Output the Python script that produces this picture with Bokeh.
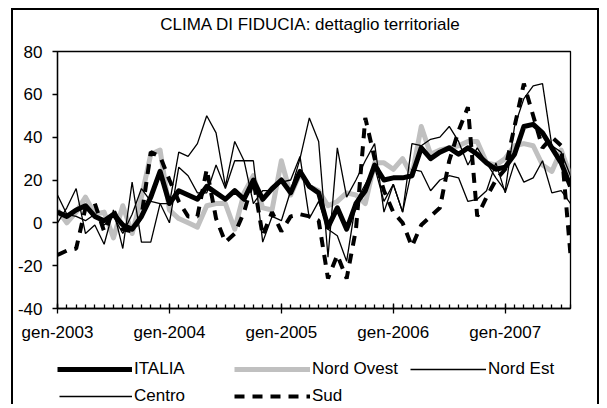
from bokeh.plotting import figure
from bokeh.layouts import column
from bokeh.models import Range1d, FixedTicker, Legend, LegendItem, Label
from bokeh.embed import file_html
from bokeh.resources import INLINE

# ---- data (monthly, gen-2003 .. ago-2007) ----
months = ["gen-2003", "feb-2003", "mar-2003", "apr-2003", "mag-2003", "giu-2003",
          "lug-2003", "ago-2003", "set-2003", "ott-2003", "nov-2003", "dic-2003",
          "gen-2004", "feb-2004", "mar-2004", "apr-2004", "mag-2004", "giu-2004",
          "lug-2004", "ago-2004", "set-2004", "ott-2004", "nov-2004", "dic-2004",
          "gen-2005", "feb-2005", "mar-2005", "apr-2005", "mag-2005", "giu-2005",
          "lug-2005", "ago-2005", "set-2005", "ott-2005", "nov-2005", "dic-2005",
          "gen-2006", "feb-2006", "mar-2006", "apr-2006", "mag-2006", "giu-2006",
          "lug-2006", "ago-2006", "set-2006", "ott-2006", "nov-2006", "dic-2006",
          "gen-2007", "feb-2007", "mar-2007", "apr-2007", "mag-2007", "giu-2007",
          "lug-2007", "ago-2007"]

italia = [5, 3, 6, 8, 3, 1, 4, -1, -3, 3, 12, 24,
          9, 15, 13, 11, 17, 14, 11, 15, 11, 20, 11, 16,
          20, 14, 24, 17, 14, -2, 7, -3, 9, 15, 27, 20,
          21, 21, 22, 35, 30, 33, 35, 32, 35, 32, 28, 25,
          26, 32, 45, 46, 42, 35, 28, 17]

nord_ovest = [6, 0, 5, 12, 4, 5, -7, 8, -5, 12, 32, 34,
              6, 2, 0, -2, 8, 9, 9, -3, 14, 22, 7, 6,
              29, 13, 23, 17, 15, 8, 10, 14, 13, 9, 28, 28,
              25, 30, 22, 45, 32, 34, 35, 36, 38, 38, 28, 27,
              30, 36, 37, 36, 27, 24, 34, 22]

nord_est = [13, 4, 3, 1, 4, -1, 3, -5, 4, 16, 10, 9,
            0, 26, 22, 14, 14, 27, 16, 29, 29, 9, 15, 15,
            19, 20, 31, 2, 10, -3, -6, -18, 10, 18, 26, 10,
            18, 5, 25, 24, 15, 20, 22, 21, 10, 11, 15, 28,
            14, 28, 19, 21, 29, 14, 15, 9]

centro = [0, 7, 16, -5, -1, -10, 6, -12, 19, -9, -9, 9,
          9, 33, 31, 37, 50, 42, 17, 38, 29, 29, -9, 3,
          1, 15, 30, 49, 38, -16, 35, 12, 20, 29, 37, 5,
          18, 5, 37, 36, 39, 40, 45, 38, 27, 35, 28, 21,
          15, 45, 58, 64, 65, 36, 33, 22]

sud = [-15, -13, -12, 7, 9, -4, 6, -3, -4, 3, 33, 31,
       20, 10, 3, 3, 25, 2, -9, -5, 5, 20, -6, 5,
       -4, 3, 4, 3, 1, -26, -15, -26, -3, 49, 30, 15,
       5, 0, -11, -1, 3, 7, 29, 43, 54, 3, 12, 20,
       25, 45, 65, 50, 35, 40, 36, -15]

title_text = "CLIMA DI FIDUCIA: dettaglio territoriale"
x_tick_labels = ["gen-2003", "gen-2004", "gen-2005", "gen-2006", "gen-2007"]
y_ticks = [-40, -20, 0, 20, 40, 60, 80]
y_tick_labels = ["-40", "-20", "0", "20", "40", "60", "80"]

x = list(range(len(months)))
x_tick_pos = [months.index(lbl) for lbl in x_tick_labels]

FONT = "Liberation Sans"
W = 588

# ---------- title strip ----------
pt = figure(width=W, height=27, x_range=Range1d(0, 1), y_range=Range1d(0, 1),
            x_axis_type=None, y_axis_type=None, output_backend="svg",
            toolbar_location=None, min_border=0)
pt.outline_line_color = None
pt.xgrid.visible = False
pt.ygrid.visible = False
pt.add_layout(Label(x=0.493, y=0.5, text=title_text, text_align="center",
                    text_baseline="middle", text_font=FONT,
                    text_font_size="17px", text_color="black"))

# ---------- main plot ----------
p = figure(width=W, height=316,
           x_range=Range1d(0, len(months) - 1), y_range=Range1d(-40, 80),
           output_backend="svg", toolbar_location=None,
           min_border_left=44, min_border_right=27,
           min_border_top=14, min_border_bottom=45)
p.background_fill_color = "white"
p.border_fill_color = "white"
p.outline_line_color = "black"
p.outline_line_width = 1.3
p.xgrid.visible = False
p.ygrid.visible = False

xa = p.xaxis[0]
xa.ticker = FixedTicker(ticks=x_tick_pos, minor_ticks=x)
xa.major_label_overrides = {pos: lbl for pos, lbl in zip(x_tick_pos, x_tick_labels)}
xa.major_tick_in = 5
xa.major_tick_out = 5
xa.minor_tick_in = 4
xa.minor_tick_out = 0
xa.axis_line_width = 1.3
xa.major_tick_line_width = 1.3
xa.minor_tick_line_width = 1.3
xa.major_label_standoff = 9
xa.major_label_text_font = FONT
xa.major_label_text_font_size = "17px"
xa.major_label_text_color = "black"

ya = p.yaxis[0]
ya.ticker = FixedTicker(ticks=y_ticks)
ya.major_label_overrides = {t: l for t, l in zip(y_ticks, y_tick_labels)}
ya.major_tick_in = 0
ya.major_tick_out = 5
ya.minor_tick_line_color = None
ya.axis_line_width = 1.3
ya.major_tick_line_width = 1.3
ya.major_label_standoff = 10
ya.major_label_text_font = FONT
ya.major_label_text_font_size = "17px"
ya.major_label_text_color = "black"

styles = {
    "ITALIA": dict(line_color="black", line_width=5, line_join="round"),
    "Nord Ovest": dict(line_color="#c0c0c0", line_width=5, line_join="round"),
    "Nord Est": dict(line_color="black", line_width=1.3),
    "Centro": dict(line_color="black", line_width=1.3),
    "Sud": dict(line_color="black", line_width=4, line_dash="10 8"),
}
series = {"Nord Ovest": nord_ovest, "ITALIA": italia, "Nord Est": nord_est,
          "Centro": centro, "Sud": sud}
for name, vals in series.items():
    p.line(x, vals, **styles[name])

# ---------- legend strip (frame aligned with main plot's frame) ----------
pl = figure(width=W, height=53, x_range=Range1d(-20, -10), y_range=Range1d(-200, -100),
            x_axis_type=None, y_axis_type=None, output_backend="svg",
            toolbar_location=None,
            min_border_left=44, min_border_right=27, min_border_top=0, min_border_bottom=0)
pl.outline_line_color = None
pl.xgrid.visible = False
pl.ygrid.visible = False

# (x offset from plot-area left, y offset from strip bottom, sample length)
legend_pos = {"ITALIA": (0, 27, 75), "Nord Ovest": (177, 27, 76),
              "Nord Est": (353, 27, 76), "Centro": (2, 0, 73),
              "Sud": (177, 0, 76)}
for name in ["ITALIA", "Nord Ovest", "Nord Est", "Centro", "Sud"]:
    r = pl.line(x, series[name], **styles[name])
    lx, ly, gw = legend_pos[name]
    leg = Legend(items=[LegendItem(label=name, renderers=[r])],
                 location=(lx, ly), orientation="horizontal",
                 glyph_width=gw, glyph_height=16, label_height=16,
                 label_standoff=2, padding=0, margin=0, spacing=0,
                 border_line_alpha=0, background_fill_alpha=0,
                 label_text_font=FONT, label_text_font_size="17px",
                 label_text_color="black")
    pl.add_layout(leg, "center")

layout = column(pt, p, pl, width=W, height=396, spacing=0)
layout.styles = {"margin-left": "11px",
                 "margin-top": "8px",
                 "border-left": "2px solid black",
                 "border-top": "2px solid black",
                 "border-right": "2px solid black"}

open("out.html", "w").write(file_html(layout, INLINE))
